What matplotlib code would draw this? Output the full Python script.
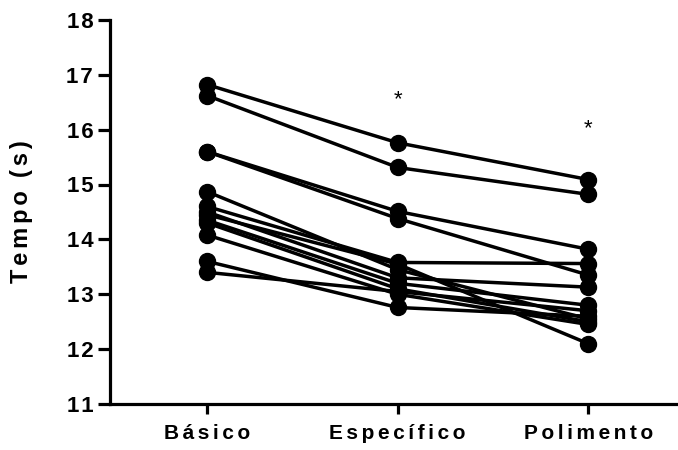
import matplotlib.pyplot as plt
from matplotlib.ticker import FuncFormatter

plt.rcParams['font.family'] = ['Liberation Sans', 'DejaVu Sans']

groups = ["Básico", "Específico", "Polimento"]
basico = [16.82, 16.62, 15.60, 15.60, 14.87, 14.60, 14.50, 14.45, 14.35, 14.30, 14.08, 13.60, 13.40]
especifico = [15.76, 15.31, 14.51, 14.38, 13.45, 13.58, 13.30, 13.55, 13.20, 13.10, 13.00, 12.76, 13.05]
polimento = [15.09, 14.82, 13.82, 13.35, 12.55, 13.56, 13.13, 12.10, 12.80, 12.50, 12.45, 12.60, 12.70]
star_y = [16.55, 16.02]

wide = "\u2006"
hair = "\u200a"

fig = plt.figure(figsize=(6.78, 4.5), dpi=100)
ax = fig.add_axes([0.162, 0.102, 0.838, 0.854])

x = [0, 1, 2]
for b, e, p in zip(basico, especifico, polimento):
    ax.plot(x, [b, e, p], color='black', lw=2.5, marker='o', ms=11.5, zorder=3)

ax.text(1, star_y[0], "*", ha='center', va='center', fontsize=16)
ax.text(2, star_y[1], "*", ha='center', va='center', fontsize=16)

ax.set_xlim(-0.51, 2.47)
ax.set_ylim(11, 18)
ax.set_yticks(range(11, 19))
ax.yaxis.set_major_formatter(FuncFormatter(lambda v, p: hair.join(str(int(v)))))
ax.set_xticks(x)
ax.set_xticklabels([wide.join(g) for g in groups])
ax.set_ylabel(wide.join("Tempo") + "  " + wide.join("(s)"), fontsize=17, fontweight='bold')
ax.yaxis.set_label_coords(-0.136, 0.5)

for s in ['top', 'right']:
    ax.spines[s].set_visible(False)
for s in ['left', 'bottom']:
    ax.spines[s].set_linewidth(2.3)
ax.tick_params(width=2.3)
ax.tick_params(axis='x', length=7, pad=7, labelsize=15)
ax.tick_params(axis='y', length=8.5, pad=3.5, labelsize=16)
for lbl in ax.get_xticklabels() + ax.get_yticklabels():
    lbl.set_fontweight('bold')

fig.savefig("out.png", dpi=100)
